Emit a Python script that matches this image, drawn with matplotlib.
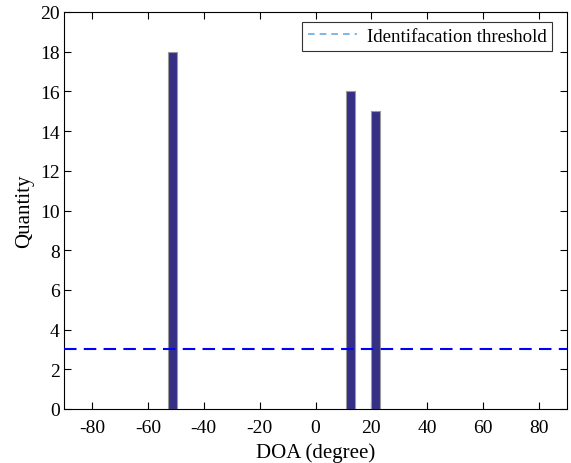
import matplotlib
matplotlib.use("Agg")
import matplotlib.pyplot as plt
from matplotlib.lines import Line2D

plt.rcParams['font.family'] = ['Liberation Serif', 'DejaVu Serif']
plt.rcParams['axes.unicode_minus'] = False

# Data
doa_centers = [-51.2, 12.4, 21.5]
quantities = [18, 16, 15]
bar_width = 3.3
threshold = 3
x_ticks = [-80, -60, -40, -20, 0, 20, 40, 60, 80]
y_ticks = list(range(0, 21, 2))

fig = plt.figure(figsize=(5.71, 4.64), dpi=100)
ax = fig.add_axes([64/571, 1 - 410/464, (567-64)/571, (410-13)/464])

ax.bar(doa_centers, quantities, width=bar_width, color='#352f85',
       edgecolor='#9a9a9a', linewidth=0.8, zorder=2)
ax.axhline(threshold, color='#0000ff', linestyle=(0, (6, 3.5)), linewidth=1.5, zorder=3)

ax.set_xlim(-90, 90)
ax.set_ylim(0, 20)
ax.set_xticks(x_ticks)
ax.set_yticks(y_ticks)
ax.tick_params(direction='in', top=True, right=True, labelsize=14, length=5, width=0.8)
ax.tick_params(axis='x', pad=7)
ax.tick_params(axis='y', pad=3)
for s in ax.spines.values():
    s.set_linewidth(0.8)

ax.set_xlabel('DOA (degree)', fontsize=15, labelpad=5)
ax.set_ylabel('Quantity', fontsize=15, labelpad=4)

handle = Line2D([], [], color='#6aaae0', linestyle=(0, (4, 3)), linewidth=1.2)
leg = ax.legend([handle], ['Identifacation threshold'], loc='upper right',
                bbox_to_anchor=((552-64)/503, (410-23)/397), fontsize=13.6,
                frameon=True, fancybox=False, framealpha=1, edgecolor='#333333',
                borderpad=0.3, handlelength=2.6, handletextpad=0.5, borderaxespad=0)
leg.get_frame().set_linewidth(0.8)

fig.savefig('out.png', dpi=100)
